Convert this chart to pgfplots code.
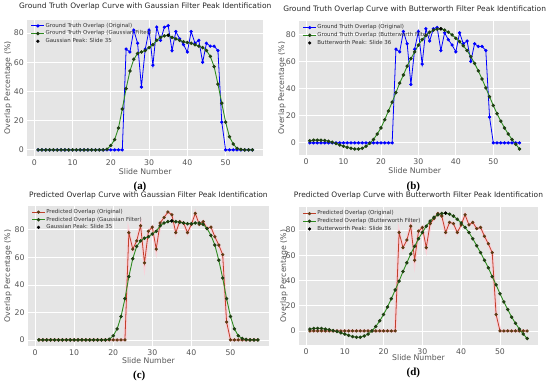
\documentclass[border=0pt]{standalone}
\usepackage{pgfplots}
\pgfplotsset{compat=1.18}
\usepackage{pgfplotstable}
\usepackage{fontspec}
\setmainfont{DejaVu Sans}
\newfontfamily\serifbf{Liberation Serif}[BoldFont={Liberation Serif Bold}]

\definecolor{bggray}{HTML}{E5E5E5}
\definecolor{tickgray}{HTML}{555555}
\definecolor{gtblue}{HTML}{0000FF}
\definecolor{filtgreen}{HTML}{2E8B20}
\definecolor{filtmark}{HTML}{1F3F12}
\definecolor{predred}{HTML}{C0402A}
\definecolor{predmark}{HTML}{5E3A14}
\definecolor{glow}{HTML}{FFCCD6}

\pgfplotstableread{
x gt gtg gtb pr prg prb
1 0 0 1.5 0 0 1.5
2 0 0 2 0 0 2
3 0 0 2 0 0 2
4 0 0 2 0 0 2
5 0 0 1.8 0 0 1.5
6 0 0 1.2 0 0 1
7 0 0 0.5 0 0 0.3
8 0 0 -0.5 0 0 -0.5
9 0 0 -1.5 0 0 -1.5
10 0 0 -2.5 0 0 -2.5
11 0 0 -3.3 0 0 -3.5
12 0 0 -4 0 0 -4.5
13 0 0 -4.5 0 0 -5
14 0 0 -4.5 0 0 -5
15 0 0 -4 0 0 -4
16 0 0 -2.5 0 0 -2.5
17 0 0 -0.3 0 0 0
18 0 0 2.5 0 0 3.5
19 0 0.5 6.5 0 0.5 8
20 0 3 11 0 3 13
21 0 7 17 0 8 19
22 0 15 23.5 0 17 25.5
23 0 28 30 0 30 32.5
24 69 42 37 78 46 39.5
25 67 54 44 66 59 47
26 82 62 50 72 68 54
27 73 66 56.5 83 72 61
28 43 67 62 56 74 67
29 69 68 67 79 75 73
30 82 70 72 82 77 78
31 58 72 76 66 79 83
32 84 75 79 85 83 87
33 75 77 81.5 89 85 90
34 84 78 83 93 86 92
35 85 78.5 83.8 91 86.5 93
36 68 77 84 78 86 93.3
37 81 76 83 86 85.5 92.5
38 76 75 81.5 85 85 91
39 72 74 79.5 78 84.5 88.5
40 67 73.5 77 84 84.5 85.5
41 81 73 74.5 92 85 82
42 73 72 71.5 84 85 78
43 75 71 68 86 84 73
44 60 70 63.5 81 81 67.5
45 73 68 58.5 82 76 62
46 71 64 53 75 69 56
47 71 57 47 69 58 50
48 68 45 40.5 62 45 43
49 19 32 34 13 30 36.5
50 0 19 27.5 0 17 29.5
51 0 9 21.5 0 8 23
52 0 4 16 0 3 17
53 0 1 11 0 1 11
54 0 0.3 6.5 0 0.3 6
55 0 0 2.5 0 0 1.5
56 0 0 -1 0 0 -2.5
57 0 0 -4.5 0 0 -6
}\datatab

\pgfplotsset{
  myax/.style={
    scale only axis,
    anchor=south west,
    axis background/.style={fill=bggray},
    axis line style={draw=none},
    major tick length=0pt,
    grid=major,
    major grid style={white, line width=0.8bp},
    xmin=-1.8, xmax=59.8,
    xtick={0,10,...,50}, ytick={0,20,...,80},
    tick label style={font=\fontsize{7.8}{9}\selectfont, text=tickgray},
    /pgf/number format/assume math mode=true,
    xlabel={Slide Number}, ylabel={Overlap Percentage (\%)},
    label style={font=\fontsize{7.8}{9}\selectfont, text=tickgray},
    xlabel style={at={(axis description cs:0.5,0)}, anchor=center},
    title style={font=\fontsize{7.5}{9}\selectfont, text=black!85, at={(axis description cs:0.5,1)}, anchor=center},
    legend cell align=left,
    legend style={fill=none, draw=none, at={(axis description cs:0.012,0.985)}, anchor=north west,
      font=\fontsize{5.5}{6.2}\selectfont, text=black!80, row sep=0.4bp, inner sep=0.5bp,
      nodes={inner sep=0.8bp}},
    legend image code/.code={\draw[mark repeat=2,mark phase=2,##1] plot coordinates {(0bp,0bp) (6.5bp,0bp) (13bp,0bp)};},
  },
  gtline/.style={gtblue, line width=0.8bp, mark=*, mark size=1.2bp, mark options={fill=gtblue, draw=gtblue}},
  filtline/.style={filtgreen, line width=0.9bp, mark=*, mark size=1.25bp, mark options={fill=filtmark, draw=filtmark}},
  predline/.style={predred, line width=0.8bp, mark=*, mark size=1.2bp, mark options={fill=predmark, draw=predmark}},
  glowline/.style={glow, line width=3bp, forget plot, opacity=0.8},
  peak/.style={only marks, mark=*, mark size=1.4bp, black, mark options={fill=black}},
}

\begin{document}
\begin{tikzpicture}
\path (0bp,0bp) rectangle (550bp,379bp);

% (a)
\begin{axis}[myax, at={(27.4bp,228.8bp)}, width=235.7bp, height=136.6bp,
  ymin=-4.25, ymax=89.25,
  title={Ground Truth Overlap Curve with Gaussian Filter Peak Identification},
  title style={yshift=6.6bp},
  xlabel style={yshift=-15bp}, ylabel style={at={(axis description cs:-0.082,0.5)}, anchor=center}]
\addplot[gtline] table[x=x,y=gt]{\datatab};
\addlegendentry{Ground Truth Overlap (Original)}
\addplot[filtline] table[x=x,y=gtg]{\datatab};
\addlegendentry{Ground Truth Overlap (Gaussian Filter)}
\addplot[peak] coordinates {(35,78.5)};
\addlegendentry{Gaussian Peak: Slide 35}
\end{axis}

% (b)
\begin{axis}[myax, at={(299.3bp,229.8bp)}, width=230.7bp, height=133.8bp,
  ymin=-9, ymax=89.5,
  title={Ground Truth Overlap Curve with Butterworth Filter Peak Identification},
  title style={yshift=6.1bp},
  xlabel style={yshift=-15bp}, ylabel style={at={(axis description cs:-0.075,0.5)}, anchor=center}]
\addplot[gtline] table[x=x,y=gt]{\datatab};
\addlegendentry{Ground Truth Overlap (Original)}
\addplot[filtline] table[x=x,y=gtb]{\datatab};
\addlegendentry{Ground Truth Overlap (Butterworth Filter)}
\addplot[peak] coordinates {(36,84)};
\addlegendentry{Butterworth Peak: Slide 36}
\end{axis}

% (c)
\begin{axis}[myax, at={(28bp,38.6bp)}, width=240.8bp, height=140.7bp,
  ymin=-4.65, ymax=97.65,
  title={Predicted Overlap Curve with Gaussian Filter Peak Identification},
  title style={yshift=4.2bp},
  xlabel style={yshift=-14.6bp}, ylabel style={at={(axis description cs:-0.083,0.5)}, anchor=center}]
\addplot[glowline] table[x=x,y=pr]{\datatab};
\addplot[predline] table[x=x,y=pr]{\datatab};
\addlegendentry{Predicted Overlap (Original)}
\addplot[filtline] table[x=x,y=prg]{\datatab};
\addlegendentry{Predicted Overlap (Gaussian Filter)}
\addplot[peak] coordinates {(35,86.5)};
\addlegendentry{Gaussian Peak: Slide 35}
\end{axis}

% (d)
\begin{axis}[myax, at={(299bp,40.1bp)}, width=239bp, height=137.6bp,
  ymin=-11, ymax=98,
  title={Predicted Overlap Curve with Butterworth Filter Peak Identification},
  title style={yshift=6bp},
  xlabel style={yshift=-12.7bp}, ylabel style={at={(axis description cs:-0.063,0.5)}, anchor=center}]
\addplot[glowline] table[x=x,y=pr]{\datatab};
\addplot[predline] table[x=x,y=pr]{\datatab};
\addlegendentry{Predicted Overlap (Original)}
\addplot[filtline] table[x=x,y=prb]{\datatab};
\addlegendentry{Predicted Overlap (Butterworth Filter)}
\addplot[peak] coordinates {(36,93.3)};
\addlegendentry{Butterworth Peak: Slide 36}
\end{axis}

\node[font=\serifbf\bfseries\fontsize{11}{12}\selectfont, inner sep=0pt] at (140bp,198.3bp) {(a)};
\node[font=\serifbf\bfseries\fontsize{11}{12}\selectfont, inner sep=0pt] at (413.3bp,198.3bp) {(b)};
\node[font=\serifbf\bfseries\fontsize{11}{12}\selectfont, inner sep=0pt] at (139.3bp,9bp) {(c)};
\node[font=\serifbf\bfseries\fontsize{11}{12}\selectfont, inner sep=0pt] at (413.3bp,12.3bp) {(d)};
\end{tikzpicture}
\end{document}
